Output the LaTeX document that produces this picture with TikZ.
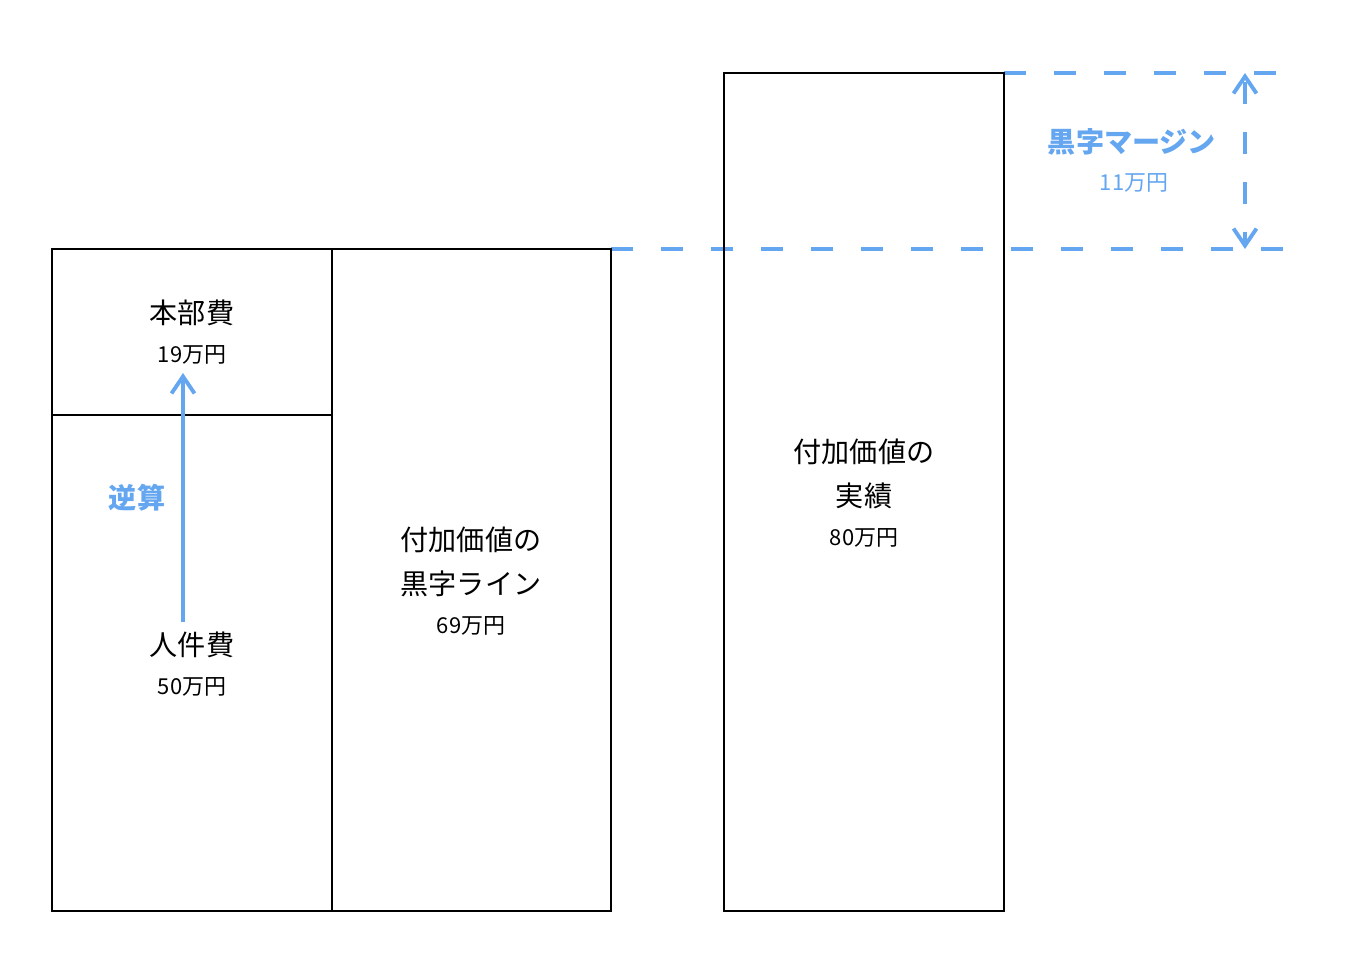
\documentclass[tikz,border=0pt]{standalone}
\usepackage{fontspec}
\setmainfont{Noto Sans CJK JP}
\usetikzlibrary{arrows.meta}
\definecolor{marginblue}{RGB}{100,166,240}
\tikzset{
  box/.style={draw=black,line width=1.3pt},
  bigtxt/.style={font=\fontsize{16}{19}\selectfont},
  smalltxt/.style={font=\fontsize{12.5}{15}\selectfont},
  bluetxt/.style={text=marginblue,font=\fontsize{16}{19}\selectfont\bfseries},
  blueline/.style={draw=marginblue,line width=2.2pt},
  bluedash/.style={blueline,dash pattern=on 0.44cm off 0.56cm},
  tipv/.style={-{Straight Barb[length=0.34cm,width=0.46cm]}}
}
\begin{document}
\begin{tikzpicture}[x=0.02cm,y=-0.02cm]
\useasboundingbox (0,0) rectangle (1352,972);

% blue dashed margin lines
\coordinate (topL) at (1004,73);\coordinate (topR) at (1285,73);
\coordinate (lineL) at (611,249);\coordinate (lineR) at (1285,249);
\draw[bluedash] (lineL) -- (lineR);
\draw[bluedash] (topL) -- (topR);

% boxes
\draw[box] (52,249) rectangle (332,911);\draw[box] (52,415) -- (332,415);
\draw[box] (332,249) rectangle (611,911);
\draw[box] (724,73) rectangle (1004,911);

% left column
\node[bigtxt] (hq) at (192,313) {本部費};\node[smalltxt] (hqv) at (192,355) {19万円};
\node[bigtxt] (staff) at (192,645) {人件費};\node[smalltxt] (staffv) at (192,687) {50万円};
\coordinate (backFrom) at (183,622);\coordinate (backTo) at (183,373);
\draw[blueline,tipv] (backFrom) -- (backTo);
\node[bluetxt] (back) at (137,498) {逆算};

% middle column
\node[bigtxt] (lineA) at (471,540) {付加価値の};
\node[bigtxt] (lineB) at (471,584) {黒字ライン};
\node[smalltxt] (linev) at (471,626) {69万円};

% right column
\node[bigtxt] (actA) at (864,452) {付加価値の};
\node[bigtxt] (actB) at (864,496) {実績};
\node[smalltxt] (actv) at (864,538) {80万円};

%margin
\coordinate (mLow) at (1245,249);\coordinate (mHigh) at (1245,73);
\draw[bluedash,dash phase=0.2cm,{Straight Barb[length=0.34cm,width=0.46cm]}-{Straight Barb[length=0.34cm,width=0.46cm]}] (mLow) -- (mHigh);
\node[bluetxt] (margin) at (1132,142) {黒字マージン};
\node[smalltxt,text=marginblue] (marginv) at (1134,183) {11万円};
\end{tikzpicture}
\end{document}
